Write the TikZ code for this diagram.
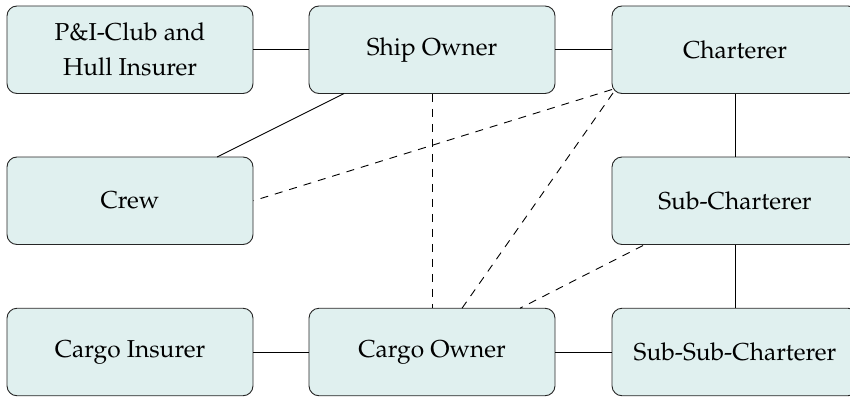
\documentclass[tikz,border=0pt]{standalone}
\usepackage[T1]{fontenc}
\usepackage{mathpazo}
\usetikzlibrary{calc}
\definecolor{boxfill}{RGB}{224,240,239}
\begin{document}
\begin{tikzpicture}[x=1pt,y=-1pt,
  party/.style={draw=black!85, line width=0.9pt, fill=boxfill, rounded corners=10pt,
    minimum width=246pt, minimum height=87.5pt, inner sep=0pt, align=center,
    font=\fontsize{24.5}{35}\selectfont},
  link/.style={line width=0.9pt, black},
  dlink/.style={line width=0.9pt, black, dash pattern=on 8pt off 7pt}]
\useasboundingbox (0,0) rectangle (850,396);
% nodes
\node[party] (pi)   at (130,49.75)  {P\&I-Club and\\Hull Insurer};
\node[party] (so)   at (432,49.75)  {Ship Owner};
\node[party] (ch)   at (735,49.75)  {Charterer};
\node[party] (crew) at (130,200.75) {Crew};
\node[party] (sub)  at (735,200.75) {Sub-Charterer};
\node[party] (ci)   at (130,352)    {Cargo Insurer};
\node[party] (co)   at (432,352)    {Cargo Owner};
\node[party] (ssub) at (735,352)    {Sub-Sub-Charterer};
% free end points on borders
\coordinate (soA)   at (344,93.5);
\coordinate (crewA) at (217,157);
\coordinate (chA)   at (612,89.5);
\coordinate (chB)   at (613,93);
\coordinate (coA)   at (462,308.25);
\coordinate (coB)   at (520,308.25);
\coordinate (subA)  at (643,245.5);
% solid connectors
\draw[link] (pi.east) -- (so.west);
\draw[link] (so.east) -- (ch.west);
\draw[link] (soA) -- (crewA);
\draw[link] (ch.south) -- (sub.north);
\draw[link] (sub.south) -- (ssub.north);
\draw[link] (ci.east) -- (co.west);
\draw[link] (co.east) -- (ssub.west);
% dashed connectors
\draw[dlink] (so.south) -- (co.north);
\draw[dlink] (chA) -- (crew.east);
\draw[dlink] (chB) -- (coA);
\draw[dlink] (subA) -- (coB);
\end{tikzpicture}
\end{document}
